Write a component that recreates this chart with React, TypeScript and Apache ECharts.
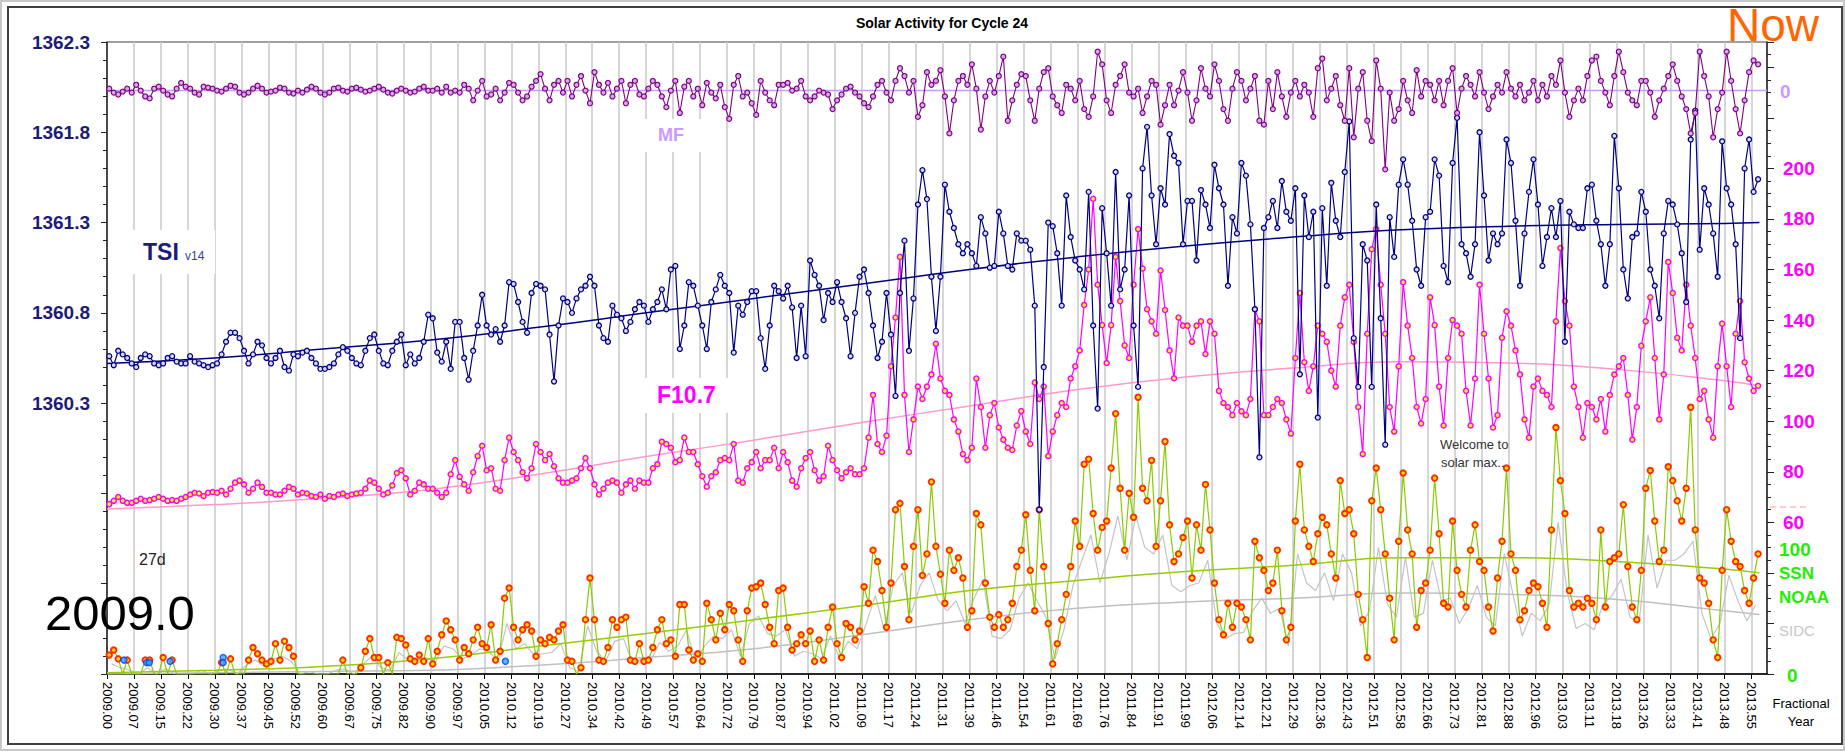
import React, { useEffect, useRef } from "react";
import * as echarts from "echarts";

// x unit: Bartels-style rotations of 27.27 days since 2009.0
const YEARS_PER_ROT = 0.0746665;
const START_YEAR = 2009;
const X_MAX = 61.58;

// Left axis (TSI, W/m2)
const TSI_TICKS = { min: 1358.8, max: 1362.3, step: 0.5 };

// TSI v14 daily values, 6 samples per rotation
const TSI = [
  1360.56, 1360.51, 1360.59, 1360.57, 1360.55, 1360.52,
  1360.50, 1360.55, 1360.57, 1360.56, 1360.52, 1360.51,
  1360.52, 1360.55, 1360.56, 1360.53, 1360.52, 1360.52,
  1360.56, 1360.53, 1360.52, 1360.51, 1360.50, 1360.51,
  1360.52, 1360.57, 1360.64, 1360.69, 1360.69, 1360.66,
  1360.59, 1360.52, 1360.57, 1360.64, 1360.62, 1360.55,
  1360.52, 1360.55, 1360.59, 1360.50, 1360.48, 1360.57,
  1360.56, 1360.58, 1360.59, 1360.55, 1360.52, 1360.49,
  1360.49, 1360.50, 1360.52, 1360.57, 1360.61, 1360.59,
  1360.55, 1360.52, 1360.51, 1360.59, 1360.66, 1360.68,
  1360.59, 1360.52, 1360.51, 1360.59, 1360.64, 1360.68,
  1360.51, 1360.57, 1360.52, 1360.55, 1360.64, 1360.79,
  1360.77, 1360.58, 1360.53, 1360.64, 1360.49, 1360.75,
  1360.75, 1360.55, 1360.43, 1360.59, 1360.73, 1360.90,
  1360.73, 1360.68, 1360.71, 1360.64, 1360.73, 1360.97,
  1360.96, 1360.86, 1360.75, 1360.69, 1360.91, 1360.96,
  1360.95, 1360.93, 1360.68, 1360.42, 1360.73, 1360.88,
  1360.86, 1360.80, 1360.88, 1360.93, 1360.95, 1361.00,
  1360.95, 1360.73, 1360.66, 1360.64, 1360.84, 1360.79,
  1360.77, 1360.70, 1360.75, 1360.82, 1360.86, 1360.84,
  1360.75, 1360.82, 1360.86, 1360.93, 1360.82, 1361.04,
  1361.06, 1360.60, 1360.73, 1360.97, 1360.95, 1360.84,
  1360.73, 1360.60, 1360.86, 1360.93, 1361.01, 1360.95,
  1360.91, 1360.58, 1360.84, 1360.79, 1360.86, 1360.92,
  1360.92, 1360.66, 1360.49, 1360.73, 1360.95, 1360.92,
  1360.88, 1360.95, 1360.83, 1360.55, 1360.84, 1360.56,
  1361.09, 1361.01, 1360.95, 1360.76, 1360.91, 1360.86,
  1360.97, 1360.86, 1360.77, 1360.56, 1360.80, 1361.00,
  1361.04, 1360.91, 1360.73, 1360.55, 1360.64, 1360.91,
  1360.68, 1360.34, 1360.91, 1361.20, 1360.59, 1360.88,
  1361.40, 1361.59, 1361.43, 1361.00, 1360.70, 1361.00,
  1361.51, 1361.36, 1361.27, 1361.18, 1361.13, 1361.18,
  1361.13, 1361.06, 1361.33, 1361.24, 1361.05, 1361.06,
  1361.36, 1361.24, 1361.06, 1361.04, 1361.24, 1361.20,
  1361.20, 1361.15, 1360.84, 1359.71, 1360.50, 1361.30,
  1361.28, 1361.13, 1360.84, 1361.45, 1361.22, 1361.09,
  1361.04, 1360.93, 1361.47, 1360.73, 1360.27, 1361.38,
  1361.13, 1360.84, 1361.58, 1360.93, 1361.04, 1361.45,
  1360.73, 1360.39, 1361.60, 1361.83, 1361.45, 1361.18,
  1361.49, 1361.40, 1361.79, 1361.67, 1361.63, 1361.18,
  1361.42, 1361.42, 1361.09, 1361.48, 1361.40, 1361.27,
  1361.62, 1361.49, 1361.40, 1360.95, 1361.33, 1361.24,
  1361.63, 1361.56, 1361.29, 1360.82, 1360.00, 1361.27,
  1361.33, 1361.42, 1361.27, 1361.53, 1361.36, 1361.31,
  1361.49, 1360.46, 1361.45, 1361.22, 1361.36, 1360.22,
  1361.38, 1360.95, 1361.52, 1361.31, 1361.22, 1361.58,
  1361.86, 1360.66, 1360.39, 1361.18, 1361.09, 1360.39,
  1361.40, 1360.77, 1360.07, 1361.33, 1361.11, 1361.51,
  1361.65, 1361.51, 1361.31, 1361.04, 1360.95, 1361.33,
  1361.36, 1361.65, 1361.56, 1361.06, 1360.97, 1361.63,
  1361.88, 1361.18, 1361.13, 1361.00, 1361.18, 1361.80,
  1361.45, 1361.09, 1361.24, 1361.18, 1361.24, 1361.76,
  1361.63, 1361.31, 1360.95, 1361.24, 1361.47, 1361.65,
  1361.40, 1361.06, 1361.22, 1361.38, 1361.22, 1361.42,
  1360.64, 1361.36, 1361.29, 1361.27, 1361.27, 1361.49,
  1361.51, 1361.31, 1361.18, 1360.95, 1361.18, 1361.78,
  1361.49, 1361.04, 1360.88, 1361.22, 1361.24, 1361.47,
  1361.36, 1361.04, 1360.95, 1360.77, 1361.24, 1361.42,
  1361.40, 1361.29, 1361.13, 1360.86, 1361.76, 1361.92,
  1361.15, 1361.49, 1361.40, 1361.24, 1361.00, 1361.75,
  1361.49, 1361.40, 1361.18, 1360.66, 1361.60, 1361.76,
  1361.47, 1361.54,
];

// F10.7 radio flux (sfu), 6 samples per rotation
const F107 = [
  67.2, 68.5, 70.0, 68.5, 67.7, 67.7,
  68.5, 69.3, 68.5, 68.8, 69.3, 70.0,
  69.3, 68.5, 68.8, 68.5, 69.3, 70.0,
  71.0, 71.7, 71.4, 70.4, 71.7, 72.0,
  71.7, 72.5, 71.0, 73.3, 75.7, 76.5,
  75.0, 71.7, 73.3, 75.7, 74.0, 71.7,
  71.7, 71.0, 71.0, 72.5, 74.0, 73.3,
  71.0, 71.7, 71.4, 70.4, 70.0, 71.0,
  69.3, 70.4, 70.0, 71.0, 71.4, 70.4,
  71.0, 71.4, 71.7, 73.3, 76.5, 75.7,
  73.3, 71.0, 71.7, 74.6, 79.5, 80.6,
  77.4, 71.0, 72.5, 75.7, 75.0, 73.3,
  73.3, 71.7, 70.0, 71.7, 79.0, 84.6,
  78.0, 75.0, 72.5, 79.8, 86.2, 90.3,
  80.6, 81.4, 73.3, 72.5, 84.6, 93.5,
  87.8, 84.6, 79.8, 77.4, 81.4, 91.0,
  87.8, 84.6, 87.0, 82.2, 77.4, 75.7,
  75.7, 76.5, 77.4, 81.4, 85.4, 81.4,
  75.0, 71.0, 73.3, 75.7, 76.5, 75.7,
  71.7, 75.0, 76.5, 73.3, 76.5, 75.7,
  75.7, 81.4, 83.0, 91.9, 91.0, 89.5,
  83.8, 84.6, 93.5, 87.8, 87.8, 83.0,
  78.2, 74.1, 78.2, 79.8, 84.6, 85.4,
  84.6, 91.0, 76.5, 75.7, 81.4, 83.8,
  87.8, 81.4, 84.6, 84.6, 89.5, 81.4,
  87.8, 83.8, 76.5, 74.1, 81.4, 85.4,
  87.8, 80.6, 76.5, 78.2, 90.3, 84.6,
  80.6, 77.4, 79.8, 81.4, 79.0, 79.0,
  81.4, 93.5, 110.4, 91.0, 87.8, 94.3,
  121.7, 141.0, 165.0, 110.4, 87.8, 100.7,
  113.7, 108.8, 113.7, 118.5, 130.6, 116.9,
  112.0, 110.4, 100.7, 95.9, 87.0, 84.6,
  89.5, 116.9, 105.6, 89.5, 102.4, 107.2,
  97.5, 92.7, 89.5, 88.6, 98.3, 104.0,
  95.9, 91.0, 115.3, 108.8, 113.7, 86.2,
  95.9, 102.4, 107.2, 105.6, 116.9, 121.7,
  128.0, 146.0, 160.0, 188.0, 154.0, 138.0,
  123.0, 138.0, 165.0, 147.5, 130.0, 125.0,
  154.0, 176.0, 160.4, 144.3, 139.5, 134.6,
  159.6, 144.0, 128.0, 117.0, 141.0, 137.8,
  137.8, 131.4, 137.8, 139.5, 126.6, 139.5,
  134.6, 112.0, 107.2, 105.6, 102.4, 107.2,
  103.9, 102.4, 108.8, 144.3, 139.5, 102.4,
  102.4, 105.6, 108.8, 107.2, 100.7, 95.1,
  125.0, 150.7, 123.3, 112.0, 121.7, 137.8,
  134.6, 131.4, 120.0, 113.7, 137.8, 149.0,
  154.0, 131.4, 105.6, 87.0, 134.6, 168.0,
  176.0, 154.0, 134.6, 105.6, 95.9, 121.7,
  155.0, 137.8, 125.0, 105.6, 99.1, 108.8,
  149.0, 138.0, 113.7, 98.3, 125.0, 140.0,
  137.8, 134.6, 112.0, 98.3, 116.9, 154.0,
  134.6, 116.9, 97.5, 102.4, 133.0, 143.5,
  137.8, 128.0, 118.5, 100.7, 93.5, 113.7,
  116.9, 112.0, 110.4, 105.6, 139.5, 168.5,
  147.5, 137.8, 113.7, 105.6, 93.5, 107.2,
  105.6, 100.7, 108.8, 95.9, 110.4, 118.5,
  121.7, 125.0, 110.4, 92.7, 105.6, 129.8,
  139.5, 149.0, 125.0, 100.7, 118.5, 163.0,
  150.7, 133.0, 128.0, 154.0, 137.8, 125.0,
  108.8, 112.0, 100.7, 93.5, 121.7, 138.6,
  121.7, 105.6, 134.6, 147.5, 123.3, 116.9,
  112.0, 114.0,
];

// NOAA sunspot number, 6 samples per rotation
const SSN_NOAA = [
  15, 19, 12, 0, 11, 0,
  0, 0, 11, 11, 0, 0,
  13, 0, 11, 0, 0, 0,
  0, 0, 0, 0, 0, 0,
  0, 9, 0, 12, 0, 0,
  0, 11, 21, 16, 11, 8,
  10, 24, 11, 26, 21, 14,
  0, 0, 0, 0, 0, 0,
  0, 0, 0, 0, 11, 0,
  0, 0, 5, 18, 28, 13,
  13, 0, 9, 0, 29, 28,
  23, 12, 10, 15, 10, 28,
  8, 18, 31, 42, 35, 27,
  11, 21, 16, 27, 37, 24,
  21, 39, 11, 18, 60, 68,
  37, 27, 35, 39, 34, 14,
  27, 24, 29, 27, 34, 39,
  11, 10, 0, 5, 43, 76,
  43, 11, 10, 21, 43, 37,
  43, 45, 11, 10, 24, 10,
  11, 21, 35, 43, 24, 27,
  14, 55, 55, 19, 11, 16,
  10, 56, 43, 27, 48, 35,
  55, 50, 27, 10, 50, 68,
  69, 72, 55, 37, 24, 66,
  68, 37, 19, 24, 31, 24,
  34, 10, 27, 11, 37, 53,
  24, 13, 40, 37, 27, 34,
  69, 56, 98, 89, 66, 37,
  72, 130, 135, 85, 43, 101,
  130, 78, 95, 152, 101, 79,
  56, 98, 82, 92, 76, 37,
  50, 127, 118, 72, 45, 37,
  47, 37, 43, 56, 85, 98,
  126, 82, 50, 130, 85, 40,
  8, 24, 43, 63, 85, 121,
  101, 166, 170, 127, 98, 116,
  121, 163, 206, 147, 98, 143,
  124, 219, 147, 137, 169, 101,
  137, 184, 118, 89, 95, 108,
  121, 76, 118, 98, 150, 114,
  72, 43, 31, 56, 37, 56,
  53, 43, 27, 105, 92, 82,
  66, 72, 98, 50, 27, 37,
  121, 166, 114, 101, 89, 111,
  124, 118, 95, 76, 153, 127,
  130, 111, 63, 43, 13, 137,
  163, 130, 95, 60, 27, 105,
  159, 114, 95, 37, 66, 72,
  98, 155, 111, 56, 53, 121,
  82, 63, 53, 98, 118, 89,
  82, 53, 34, 76, 105, 163,
  95, 82, 43, 50, 66, 72,
  69, 56, 37, 114, 195, 153,
  127, 66, 53, 56, 53, 60,
  56, 43, 114, 53, 89, 92,
  95, 134, 85, 53, 43, 82,
  147, 161, 121, 89, 98, 164,
  153, 137, 121, 147, 211, 114,
  76, 72, 56, 27, 13, 82,
  130, 105, 89, 85, 66, 56,
  76, 95,
];

// SIDC sunspot number, 3 samples per rotation
const SSN_SIDC = [
  8, 5, 3, 0, 5, 0, 4, 0, 0, 0, 3, 0, 3, 4, 0, 7, 11, 6, 12, 14, 10,
  0, 2, 0, 0, 3, 4, 0, 8, 14, 5, 3, 17, 11, 8, 13, 9, 22, 20, 12, 15, 20,
  18, 10, 40, 20, 24, 15, 16, 17, 24, 5, 2, 38, 18, 10, 26, 28, 8, 12,
  10, 25, 18, 22, 35, 10, 22, 30, 28, 35, 14, 40, 46, 32, 30, 35, 14, 18,
  16, 12, 30, 13, 26, 20, 40, 62, 35, 70, 80, 48, 70, 80, 58, 50, 58, 40,
  60, 75, 30, 28, 35, 60, 72, 58, 45, 12, 35, 70, 90, 110, 72, 95, 125, 90,
  125, 100, 95, 110, 70, 65, 70, 72, 90, 40, 28, 32, 33, 50, 60, 48, 52, 22,
  95, 72, 66, 80, 58, 95, 80, 38, 50, 100, 55, 45, 92, 45, 48, 90, 58, 60,
  40, 52, 70, 45, 38, 95, 62, 30, 48, 42, 55, 120, 65, 36, 40, 35, 55, 62,
  75, 45, 40, 110, 68, 90, 90, 95, 105, 48, 28, 40, 78, 58, 42, 55,
];

// Mean solar magnetic field (plotted in its own units around 0), 6 per rotation
const MF = [
  0.2, -0.2, -0.4, -0.1, 0.2, -0.2,
  0.6, 0, -0.6, -0.8, 0.2, 0.4,
  0, -0.4, -0.6, 0.2, 0.8, 0.4,
  0.2, -0.2, -0.4, 0.4, 0.3, 0.2,
  0, -0.1, 0.2, 0.5, 0.4, -0.2,
  -0.4, -0.2, 0.2, 0.5, 0.2, -0.2,
  -0.1, 0, 0.3, 0.2, -0.2, -0.3,
  0, -0.2, 0.1, 0.4, 0.2, -0.2,
  -0.4, -0.2, 0.2, 0.3, 0, -0.1,
  0.2, 0.3, 0.1, -0.1, 0, 0.2,
  0.4, 0.1, -0.2, -0.3, 0, 0.2,
  0, -0.2, -0.1, 0.2, 0.4, 0,
  0, 0.2, -0.2, 0.4, -0.2, 0,
  -0.2, 0.6, 0.2, -1.0, 0, 1.0,
  -0.6, -0.4, 0.2, -1.0, -0.2, 0.8,
  0.6, -0.2, -1.0, -0.6, 0.4, 1.0,
  1.7, 0.2, -1.0, 0.6, 1.0, -0.2,
  1.0, -0.6, 0.6, 1.5, 0, -1.3,
  1.9, 0.6, -0.2, 0.8, -0.6, 0.2,
  1.0, -1.3, 0.6, 1.0, -0.4, -0.6,
  0.2, 1.0, 0.6, -0.6, -1.7, 0,
  1.0, -2.3, 0.4, 1.0, -0.6, 0.2,
  -1.5, 0.8, -0.2, -0.8, 0.6, -1.7,
  -2.9, 0.6, 1.5, -0.6, -0.2, -1.3,
  -2.5, 1.0, -0.2, -1.0, -1.5, 0.6,
  0.6, 0.8, 0, 0.2, 1.0, -0.6,
  -1.0, -0.6, 0, -0.2, -0.4, -1.9,
  -1.0, -0.4, 0.2, 0.4, -0.2, -0.6,
  -1.3, -1.7, -0.6, 0.6, 1.0, -0.2,
  -1.0, 1.0, 2.3, 1.5, -0.2, 1.0,
  -2.7, -1.5, 1.9, 0.6, 1.0, 2.1,
  -0.6, -4.4, -1.0, 1.0, 1.5, 0.6,
  2.7, 0.2, -4.0, -0.6, 1.0, -0.2,
  1.5, 3.5, -3.1, -1.0, 0.6, 1.7,
  1.5, -1.0, -3.1, 0.2, 1.9, 2.3,
  -0.6, -1.5, -2.3, 0.6, 0.2, -1.0,
  1.0, -1.9, -2.7, -0.6, 4.0, 2.7,
  -1.0, -2.3, 0.6, 1.5, 2.7, -0.2,
  -0.6, 0.2, -2.3, -0.6, 1.0, 0.6,
  -3.5, -1.5, 0.6, -1.5, 0, 1.9,
  -0.2, -3.1, -1.0, 2.3, 0.2, -0.6,
  2.7, 1.0, -1.9, -3.1, 0.2, 1.9,
  1.0, -1.0, 0.2, 1.5, -3.1, -3.5,
  1.0, -1.9, 1.9, -0.6, -2.7, -0.2,
  1.0, -0.6, 0.6, -0.2, -2.7, 2.3,
  3.3, -1.0, 0.2, 1.5, -1.5, -3.1,
  2.3, -4.8, 0.2, 1.9, -3.1, -5.2,
  3.1, 0.2, -8.1, -0.2, -3.1, -1.9,
  1.0, -1.0, -2.3, 2.1, -0.6, 1.0,
  0.6, -1.0, 1.0, -1.5, 1.0, 2.3,
  -2.3, 0.2, 1.5, 0.6, -0.6, 1.9,
  -0.2, -1.9, -0.6, 0.6, -0.2, 1.9,
  0.2, -0.6, 0.6, -1.0, -0.2, 1.0,
  -1.0, 0.6, -0.6, 1.5, 0.6, 3.1,
  -0.2, -2.7, -1.0, 0.2, -1.0, 1.5,
  3.1, 3.5, 1.0, -0.2, -1.5, 1.5,
  4.0, 1.9, -0.2, -1.0, -1.5, 1.0,
  1.0, -0.2, -2.7, -1.0, 0.2, 1.5,
  2.7, 1.0, -0.6, -1.9, -4.4, -2.3,
  4.0, 1.5, -0.6, -4.8, -1.9, -0.2,
  4.0, 1.0, -1.9, -4.4, -1.0, 1.9,
  3.1, 2.7,
];
const MF_MEAN = 0;

// Smoothed trends, sampled at these rotations
const TREND_X = [0, 4, 8, 12, 16, 20, 24, 28, 32, 36, 40, 44, 48, 52, 56, 60, 61.3];
const TSI_TREND = [1360.52, 1360.55, 1360.6, 1360.65, 1360.72, 1360.8, 1360.88, 1360.96, 1361.04, 1361.11, 1361.17, 1361.22, 1361.26, 1361.28, 1361.29, 1361.295, 1361.3];
const F107_TREND = [65.3, 67, 69.5, 73, 79, 86, 92.5, 99.5, 106, 112.5, 117.5, 121, 123.5, 123, 120.5, 116, 114];
const NOAA_TREND = [1, 3, 6, 12, 22, 32, 43, 54, 66, 74, 81, 86, 92, 92, 89, 83, 80];
const SIDC_TREND = [0, 1, 2, 3, 7, 13, 20, 31, 43, 52, 57, 60, 64, 63, 59, 50, 47];

// Blue markers (early 2009)
const BLUE_X = [0.63, 1.47, 1.57, 2.34, 4.31, 4.31, 14.78];
const BLUE_Y = [11, 9, 9, 10, 13, 9, 10];

const FONT = "'Liberation Sans', Arial, Helvetica, sans-serif";

function rotX(i: number, per: number) {
  return Math.floor(i / per) + ((i % per) + 0.5) / per;
}

function App() {
  const ref = useRef<HTMLDivElement>(null);

  useEffect(() => {
    if (!ref.current) return;
    const chart = echarts.init(ref.current, undefined, { renderer: "svg" });

    const txt = (
      text: string,
      x: number,
      y: number,
      font: string,
      fill: string,
      align = "left"
    ) => ({
      type: "text",
      x,
      y,
      z: 100,
      style: {
        text,
        fill,
        font,
        textAlign: align,
        align,
        textVerticalAlign: "middle",
        verticalAlign: "middle",
      },
    });
    const box = (x: number, y: number, w: number, h: number) => ({
      type: "rect",
      z: 1,
      shape: { x, y, width: w, height: h },
      style: { fill: "#ffffff" },
    });

    const trend = (vals: number[]) => vals.map((v, i) => [TREND_X[i], v]);

    const option: any = {
      animation: false,
      backgroundColor: "#ffffff",
      textStyle: { fontFamily: FONT },
      grid: {
        left: 107,
        right: 78,
        top: 42,
        bottom: 77,
        show: true,
        borderColor: "#404040",
        borderWidth: 1,
        backgroundColor: "transparent",
      },
      xAxis: {
        type: "value",
        min: 0,
        max: X_MAX,
        interval: 1,
        axisLine: { lineStyle: { color: "#000", width: 1.5 } },
        axisTick: { length: 5, lineStyle: { color: "#000" } },
        splitLine: { show: true, lineStyle: { color: "#c8c8c8", width: 1.5 } },
        axisLabel: {
          rotate: -90,
          margin: 8,
          fontSize: 13,
          color: "#000",
          fontFamily: FONT,
          showMaxLabel: false,
          formatter: (v: number) => (START_YEAR + v * YEARS_PER_ROT).toFixed(2),
        },
      },
      yAxis: [
        {
          type: "value",
          position: "left",
          min: TSI_TICKS.min,
          max: TSI_TICKS.max,
          interval: TSI_TICKS.step,
          axisLine: { show: true, lineStyle: { color: "#222", width: 1.5 } },
          axisTick: { show: true, length: 6, lineStyle: { color: "#222" } },
          minorTick: { show: true, splitNumber: 5, length: 4, lineStyle: { color: "#222" } },
          splitLine: { show: false },
          axisLabel: {
            margin: 17,
            fontSize: 19,
            fontWeight: "bold",
            color: "#1c1c78",
            fontFamily: FONT,
            formatter: (v: number) => (v >= 1360.25 ? v.toFixed(1) : ""),
          },
        },
        {
          type: "value",
          position: "right",
          min: 0,
          max: 250,
          interval: 20,
          axisLine: { show: true, lineStyle: { color: "#222", width: 1.5 } },
          axisTick: { show: true, length: 7, lineStyle: { color: "#222" } },
          minorTick: { show: true, splitNumber: 4, length: 4, lineStyle: { color: "#222" } },
          splitLine: { show: false },
          axisLabel: {
            margin: 16,
            fontSize: 19,
            fontWeight: "bold",
            color: "#ff00ff",
            fontFamily: FONT,
            formatter: (v: number) => (v >= 60 && v <= 200 ? String(v) : ""),
          },
        },
        { type: "value", show: false, min: 0, max: 500 },
        { type: "value", show: false, min: -60, max: 5 },
      ],
      series: [
        {
          name: "SIDC",
          type: "line",
          yAxisIndex: 2,
          data: SSN_SIDC.map((v, i) => [rotX(i, 3), v]),
          symbol: "none",
          lineStyle: { color: "#c4c4c4", width: 1.2 },
          z: 2,
        },
        {
          name: "SIDC trend",
          type: "line",
          yAxisIndex: 2,
          data: trend(SIDC_TREND),
          smooth: true,
          symbol: "none",
          lineStyle: { color: "#c0c0c0", width: 1.5 },
          z: 2,
        },
        {
          name: "SSN NOAA",
          type: "line",
          yAxisIndex: 2,
          data: SSN_NOAA.map((v, i) =>
            v === 0
              ? { value: [rotX(i, 6), v], symbol: "none" }
              : { value: [rotX(i, 6), v] }
          ),
          symbol: "circle",
          symbolSize: 5.5,
          lineStyle: { color: "#88cc00", width: 1.2 },
          itemStyle: { color: "#ffdd00", borderColor: "#ff2a00", borderWidth: 1.9 },
          z: 3,
        },
        {
          name: "NOAA trend",
          type: "line",
          yAxisIndex: 2,
          data: trend(NOAA_TREND),
          smooth: true,
          symbol: "none",
          lineStyle: { color: "#99cc00", width: 1.5 },
          z: 3,
        },
        {
          name: "Blue",
          type: "scatter",
          yAxisIndex: 2,
          data: BLUE_X.map((x, i) => [x, BLUE_Y[i]]),
          symbolSize: 6,
          itemStyle: { color: "#33aaff", borderColor: "#0044ff", borderWidth: 1.5 },
          z: 3,
        },
        {
          name: "F10.7 trend",
          type: "line",
          yAxisIndex: 1,
          data: trend(F107_TREND),
          smooth: true,
          symbol: "none",
          lineStyle: { color: "#ff99cc", width: 1.5 },
          z: 4,
        },
        {
          name: "F10.7",
          type: "line",
          yAxisIndex: 1,
          data: F107.map((v, i) => [rotX(i, 6), v]),
          symbol: "circle",
          symbolSize: 5,
          lineStyle: { color: "#ff00ff", width: 1.2 },
          itemStyle: { color: "#ffff00", borderColor: "#ff00ff", borderWidth: 1.5 },
          z: 4,
        },
        {
          name: "TSI trend",
          type: "line",
          yAxisIndex: 0,
          data: trend(TSI_TREND),
          smooth: true,
          symbol: "none",
          lineStyle: { color: "#000080", width: 1.5 },
          z: 5,
        },
        {
          name: "TSI",
          type: "line",
          yAxisIndex: 0,
          data: TSI.map((v, i) => [rotX(i, 6), v]),
          symbol: "circle",
          symbolSize: 5,
          lineStyle: { color: "#000080", width: 1.2 },
          itemStyle: { color: "#d8d8f4", borderColor: "#000080", borderWidth: 1.3 },
          z: 5,
        },
        {
          name: "MF mean",
          type: "line",
          yAxisIndex: 3,
          data: [
            [0, MF_MEAN],
            [X_MAX, MF_MEAN],
          ],
          symbol: "none",
          lineStyle: { color: "#cc99ff", width: 1.5 },
          z: 6,
        },
        {
          name: "MF",
          type: "line",
          yAxisIndex: 3,
          data: MF.map((v, i) => [rotX(i, 6), v]),
          symbol: "circle",
          symbolSize: 5,
          lineStyle: { color: "#800080", width: 1.1 },
          itemStyle: { color: "#d4aaf0", borderColor: "#800080", borderWidth: 1.2 },
          z: 6,
        },
      ],
      graphic: [
        {
          type: "rect",
          z: 0,
          shape: { x: 1, y: 1, width: 1843, height: 749 },
          style: { fill: "none", stroke: "#c8c8c8", lineWidth: 2 },
        },
        {
          type: "rect",
          z: 0,
          shape: { x: 8, y: 7, width: 1834, height: 737 },
          style: { fill: "none", stroke: "#404040", lineWidth: 2 },
        },
        box(133, 230, 82, 44),
        box(643, 119, 59, 33),
        box(645, 378, 83, 35),
        txt("Solar Activity for Cycle 24", 942, 23, `bold 14px ${FONT}`, "#000", "center"),
        txt("Now", 1727, 25, `46px ${FONT}`, "#ff6600"),
        txt("TSI", 143, 252, `bold 23px ${FONT}`, "#1c1c78"),
        txt("v14", 185, 256, `12px ${FONT}`, "#3a3a9a"),
        txt("MF", 658, 135, `bold 18px ${FONT}`, "#cc99ff"),
        txt("F10.7", 657, 395, `bold 23px ${FONT}`, "#ff00ff"),
        txt("27d", 139, 559, `16px ${FONT}`, "#222"),
        txt("2009.0", 45, 613, `49px ${FONT}`, "#000"),
        txt("Welcome to", 1440, 444, `13px ${FONT}`, "#333"),
        txt("solar max..", 1441, 462, `13px ${FONT}`, "#333"),
        txt("0", 1780, 91, `bold 19px ${FONT}`, "#cc99ff"),
        txt("100", 1779, 549, `bold 19px ${FONT}`, "#22ee00"),
        txt("SSN", 1779, 573, `bold 17px ${FONT}`, "#22ee00"),
        txt("NOAA", 1779, 597, `bold 17px ${FONT}`, "#22ee00"),
        txt("SIDC", 1779, 630, `15px ${FONT}`, "#c8c8c8"),
        txt("0", 1787, 675, `bold 19px ${FONT}`, "#22ee00"),
        txt("Fractional", 1801, 703, `13px ${FONT}`, "#000", "center"),
        txt("Year", 1801, 721, `13px ${FONT}`, "#000", "center"),
        {
          type: "line",
          z: 50,
          shape: { x1: 1770, y1: 507, x2: 1808, y2: 507 },
          style: { stroke: "#ff9999", lineWidth: 1.2, lineDash: [6, 4] },
        },
      ],
    };

    chart.setOption(option);
    return () => chart.dispose();
  }, []);

  return (
    <div
      ref={ref}
      style={{ position: "absolute", left: 0, top: 0, width: 1845, height: 751 }}
    />
  );
}

export default App;
